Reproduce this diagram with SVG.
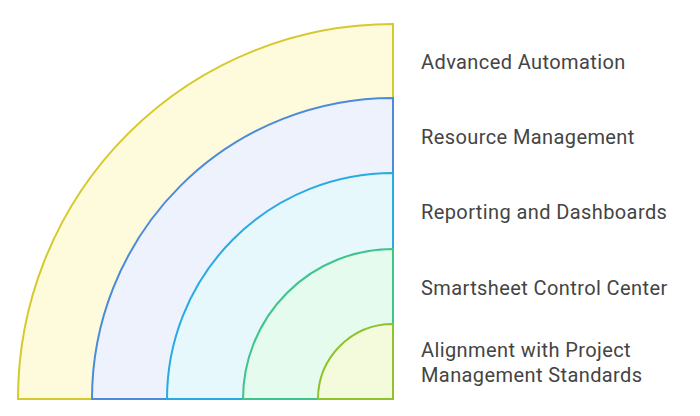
<svg xmlns="http://www.w3.org/2000/svg" width="700" height="416" viewBox="0 0 700 416">
<style>
.t{font-family:Roboto,"Liberation Sans",sans-serif;font-size:20px;letter-spacing:0.4px;fill:#444}
path{stroke-width:2}
</style>
<rect width="700" height="416" fill="#fff"/>
<g id="n1"><path d="M18,399 A375,375 0 0 1 393,24 L393,399 Z" fill="#fefadc" stroke="#d6c92c"/></g>
<g id="n2"><path d="M92,399 A301,301 0 0 1 393,98 L393,399 Z" fill="#edf2fd" stroke="#4b8bd9"/></g>
<g id="n3"><path d="M167,399 A226,226 0 0 1 393,173 L393,399 Z" fill="#e7f8fd" stroke="#2aaae2"/></g>
<g id="n4"><path d="M243,399 A150,150 0 0 1 393,249 L393,399 Z" fill="#e4fbed" stroke="#3ec48c"/></g>
<g id="n5"><path d="M318,399 A75,75 0 0 1 393,324 L393,399 Z" fill="#f3fbdc" stroke="#8fc22c"/></g>
<g id="labels">
<text class="t" x="421" y="69">Advanced Automation</text>
<text class="t" x="421" y="144">Resource Management</text>
<text class="t" x="421" y="219">Reporting and Dashboards</text>
<text class="t" x="421" y="295">Smartsheet Control Center</text>
<text class="t" x="421" y="357">Alignment with Project</text>
<text class="t" x="421" y="382">Management Standards</text>
</g>
</svg>
